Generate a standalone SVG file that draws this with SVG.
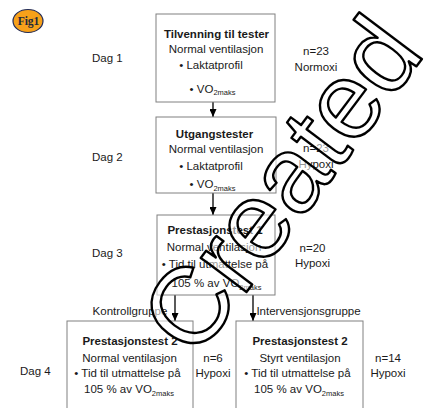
<svg xmlns="http://www.w3.org/2000/svg" width="441" height="408" viewBox="0 0 441 408">
<defs>
<marker id="ah" markerUnits="userSpaceOnUse" markerWidth="8" markerHeight="7" refX="8" refY="3.5" orient="auto">
<path d="M0,0 L8,3.5 L0,7 z" fill="#000"/>
</marker>
<style>
.box{fill:#fff;stroke:#808080;stroke-width:1}
.t{font-family:"Liberation Sans",Arial,sans-serif;font-size:11.5px;fill:#1a1a1a;text-anchor:middle}
.l{font-family:"Liberation Sans",Arial,sans-serif;font-size:11.5px;fill:#1a1a1a}
.b{font-weight:bold}
.s{font-size:7.5px}
.con{stroke:#000;stroke-width:1.3;fill:none;marker-end:url(#ah)}
</style>
</defs>
<rect width="441" height="408" fill="#fff"/>

<g id="fig1">
<ellipse cx="28" cy="21" rx="15" ry="11.5" fill="#F7A11A" stroke="#1F2A5A" stroke-width="1.2"/>
<text x="28.5" y="25" font-family="'Liberation Serif','Times New Roman',serif" font-weight="bold" font-size="11.5" fill="#1F2A3A" text-anchor="middle">Fig1</text>
</g>

<g id="labels">
<text class="l" x="92" y="62">Dag 1</text>
<text class="l" x="92" y="161">Dag 2</text>
<text class="l" x="92" y="257">Dag 3</text>
<text class="l" x="20" y="375">Dag 4</text>
<text class="t" x="316" y="55">n=23</text>
<text class="t" x="316" y="70.5">Normoxi</text>
<text class="t" x="316" y="152">n=23</text>
<text class="t" x="316" y="168">Hypoxi</text>
<text class="t" x="312.5" y="252">n=20</text>
<text class="t" x="312.5" y="267">Hypoxi</text>
<text class="t" x="213" y="362">n=6</text>
<text class="t" x="213" y="377">Hypoxi</text>
<text class="t" x="388" y="362">n=14</text>
<text class="t" x="388" y="377">Hypoxi</text>
<text class="t" x="130" y="315">Kontrollgruppe</text>
<text class="t" x="308.5" y="315">Intervensjonsgruppe</text>
</g>

<g id="connectors">
<line class="con" x1="213" y1="102" x2="213" y2="117"/>
<line class="con" x1="213" y1="193" x2="213" y2="215"/>
<line class="con" x1="175" y1="295" x2="175" y2="321"/>
<line class="con" x1="253" y1="295" x2="253" y2="321"/>
</g>

<g id="node1">
<rect class="box" x="156" y="14" width="119" height="88"/>
<text class="t b" x="216.5" y="38.3">Tilvenning til tester</text>
<text class="t" x="216" y="53.3">Normal ventilasjon</text>
<text class="t" x="211" y="69.3">• Laktatprofil</text>
<text class="t" x="212.5" y="92.5">• VO<tspan class="s" dy="2.5">2maks</tspan></text>
</g>

<g id="node2">
<rect class="box" x="156" y="117" width="120" height="76"/>
<text class="t b" x="214.5" y="138">Utgangstester</text>
<text class="t" x="216" y="153">Normal ventilasjon</text>
<text class="t" x="211" y="170">• Laktatprofil</text>
<text class="t" x="212.5" y="188">• VO<tspan class="s" dy="2.5">2maks</tspan></text>
</g>

<g id="node3">
<rect class="box" x="157" y="215" width="118" height="80"/>
<text class="t b" x="215" y="234">Prestasjonstest 1</text>
<text class="t" x="214" y="251">Normal ventilasjon</text>
<text class="t" x="215" y="268">• Tid til utmattelse på</text>
<text class="t" x="216.5" y="287">105 % av VO<tspan class="s" dy="2.5">2maks</tspan></text>
</g>

<g id="node4">
<rect class="box" x="67" y="321" width="126" height="100"/>
<text class="t b" x="130" y="345">Prestasjonstest 2</text>
<text class="t" x="129.5" y="362">Normal ventilasjon</text>
<text class="t" x="127.5" y="377">• Tid til utmattelse på</text>
<text class="t" x="129" y="393">105 % av VO<tspan class="s" dy="2.5">2maks</tspan></text>
</g>

<g id="node5">
<rect class="box" x="236" y="321" width="127" height="100"/>
<text class="t b" x="300" y="345">Prestasjonstest 2</text>
<text class="t" x="300" y="362">Styrt ventilasjon</text>
<text class="t" x="297.5" y="377">• Tid til utmattelse på</text>
<text class="t" x="299" y="393">105 % av VO<tspan class="s" dy="2.5">2maks</tspan></text>
</g>

<g id="watermark">
<text x="0" y="0" transform="translate(195 360.4) rotate(-53)" font-family="'Liberation Sans',Arial,sans-serif" font-size="108" fill="#fff" fill-opacity="0.55" stroke="#000" stroke-width="2.4" stroke-linejoin="round">Created</text>
</g>
</svg>
